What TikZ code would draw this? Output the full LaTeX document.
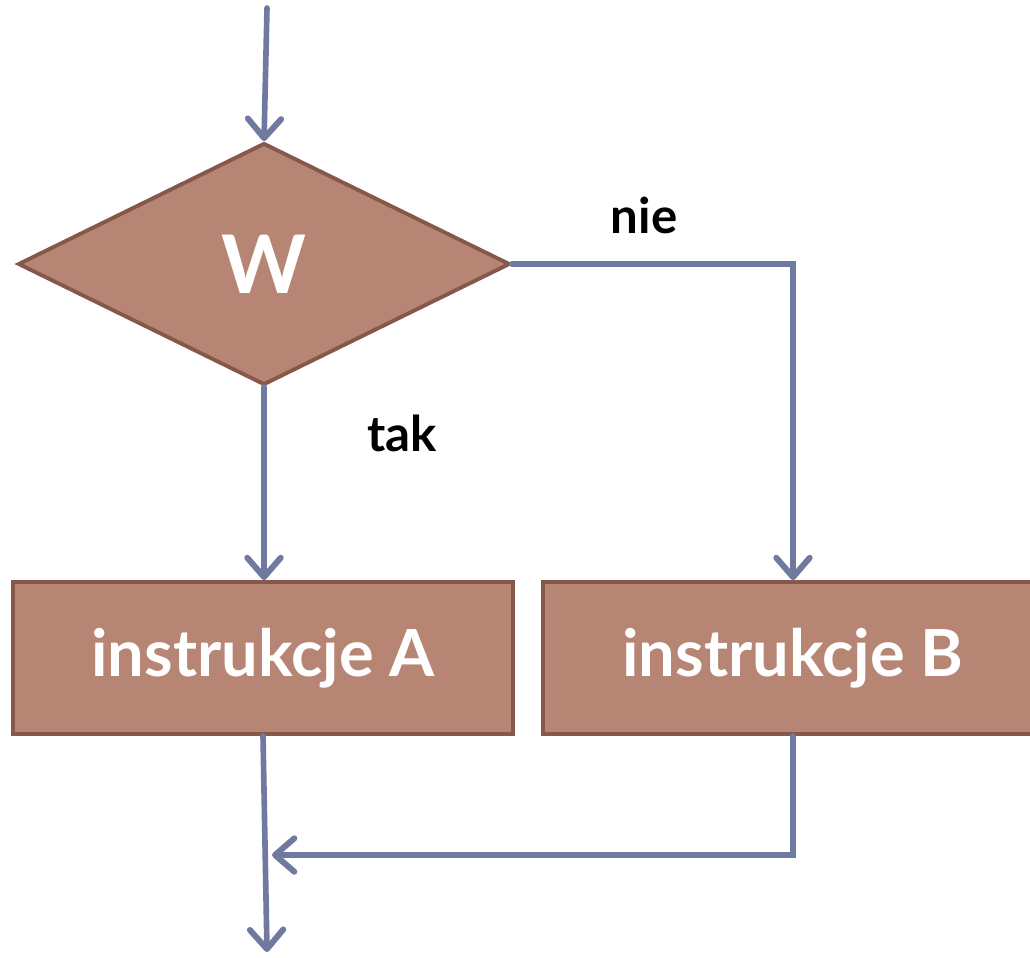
\documentclass[tikz,border=0pt]{standalone}
\usepackage{fontspec}
\setmainfont{Lato}
\usetikzlibrary{shapes.geometric,arrows.meta}
\definecolor{boxfill}{RGB}{183,133,115}
\definecolor{boxline}{RGB}{133,88,75}
\definecolor{flow}{RGB}{112,122,160}
\tikzset{
  blok/.style={draw=boxline,fill=boxfill,line width=2.2pt,inner sep=0pt,
    text=white,font=\fontsize{37}{40}\selectfont\bfseries},
  flowline/.style={draw=flow,line width=3.2pt,line cap=round,line join=miter,
    -{Straight Barb[length=11pt,width=19pt,line width=3.4pt,round]}},
  etykieta/.style={font=\fontsize{28}{32}\selectfont\bfseries}
}
\begin{document}
\begin{tikzpicture}[x=0.02cm,y=-0.02cm]
  \useasboundingbox (0,0) rectangle (1030,957);
  % bloki
  \node[blok,diamond,minimum width=9.84cm,minimum height=4.84cm,
    font=\fontsize{46}{50}\selectfont\bfseries] (warunek) at (264,264) {\raisebox{-4pt}{W}};
  \node[blok,minimum width=10cm,minimum height=3.04cm] (instrA) at (263,658) {\raisebox{-6pt}{instrukcje A}};
  \node[blok,minimum width=10cm,minimum height=3.04cm] (instrB) at (793,658) {\raisebox{-6pt}{instrukcje B}};
  \coordinate (start) at (267,8);
  \coordinate (zlacz) at (793,855);
  \coordinate (koniec) at (267,952);
  % polaczenia
  \draw[flowline] (start) -- (warunek.north);
  \draw[flowline] (warunek.south) -- (instrA.north -| warunek.south) node[pos=0.24,right=54pt,etykieta]{tak};
  \draw[flowline] (warunek.east) -- (warunek.east -| instrB.north) node[pos=0.47,above=12pt,etykieta]{nie} -- (instrB.north);
  \draw[flowline] (instrA.south) -- (koniec);
  \draw[flowline] (instrB.south) -- (zlacz) -- (272,855);
\end{tikzpicture}
\end{document}
